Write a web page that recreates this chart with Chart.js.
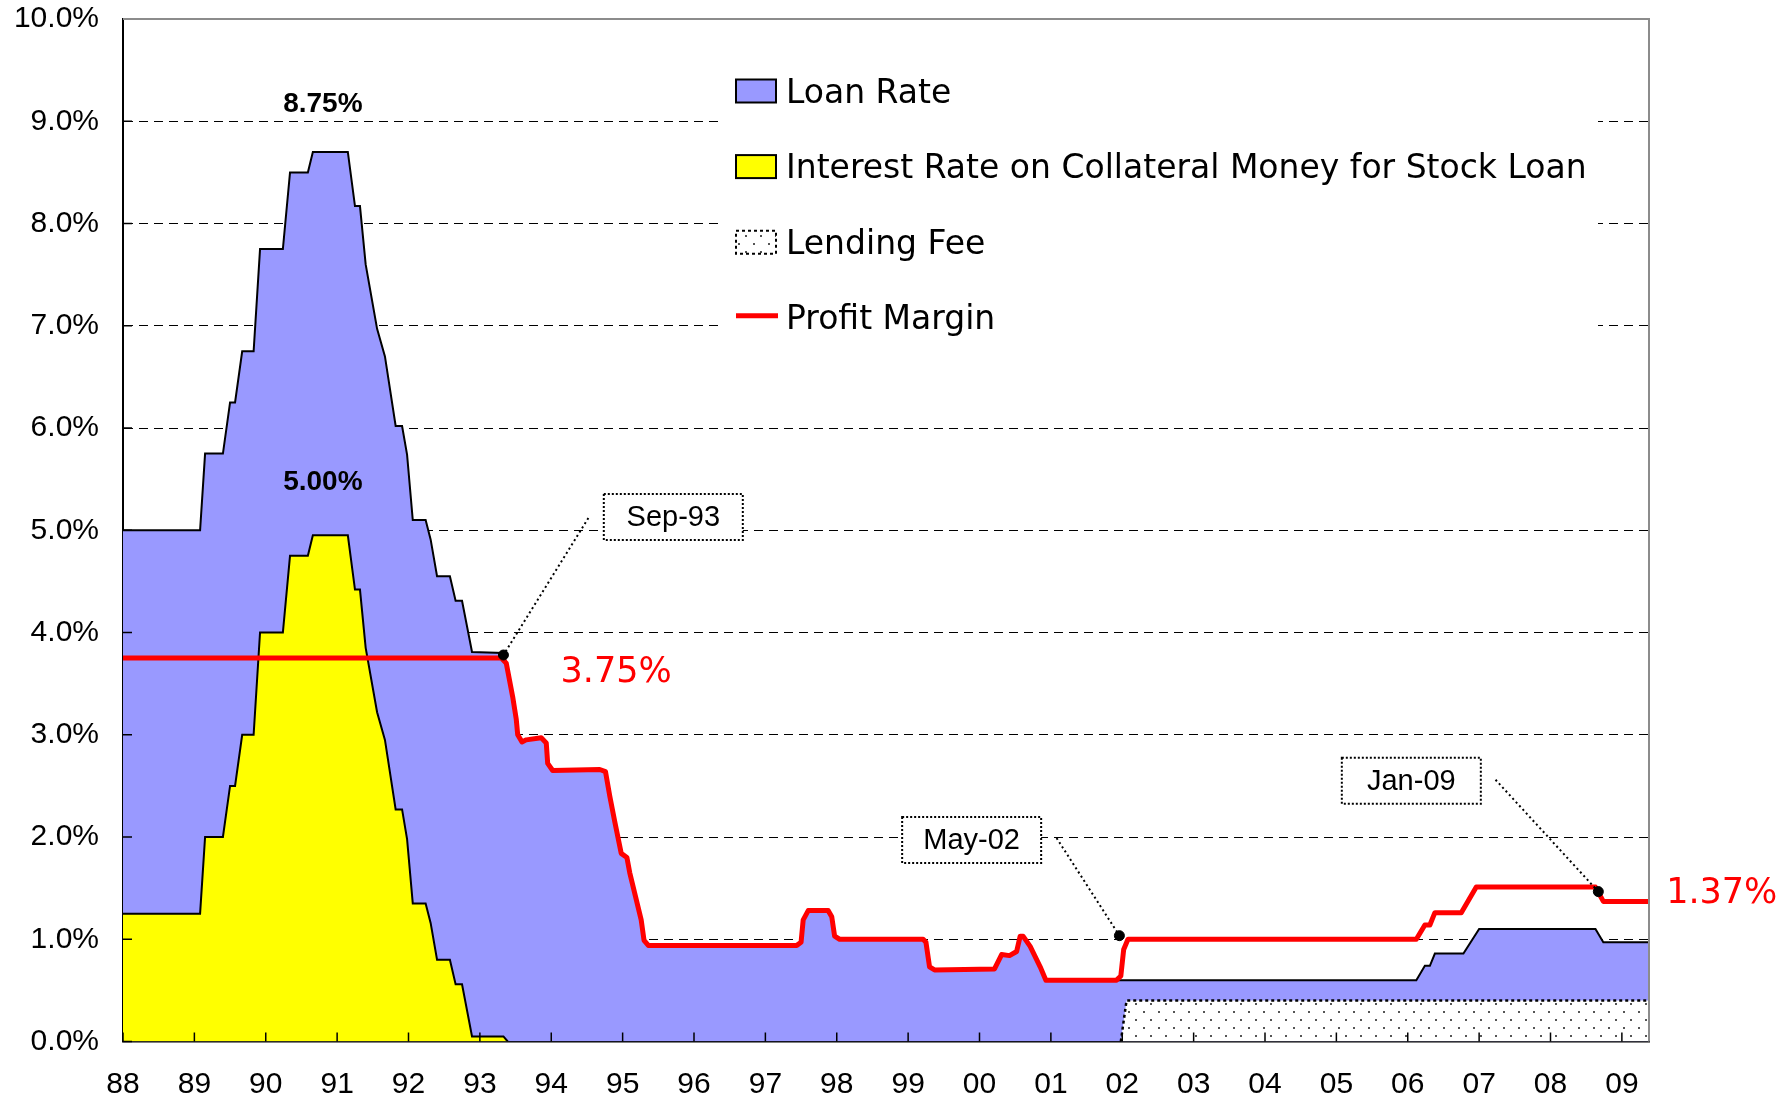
<!DOCTYPE html>
<html lang="en">
<head>
    <meta charset="UTF-8">
    <title>Loan Rate, Collateral Interest and Profit Margin</title>
    <script src="https://cdn.jsdelivr.net/npm/chart.js"></script>
    <style>
        html, body { margin: 0; padding: 0; background: #fff; }
    </style>
</head>
<body>
<canvas id="rateChart" width="1790" height="1102"></canvas>

<script>
    // ** Data (x = position on the year axis, y = %) **
    const loanYears = [1988.00, 1989.08, 1989.15, 1989.40, 1989.50, 1989.57, 1989.67, 1989.83, 1989.92, 1990.24,
        1990.34, 1990.59, 1990.66, 1991.15, 1991.25, 1991.32, 1991.40, 1991.56, 1991.67, 1991.82,
        1991.91, 1991.98, 1992.06, 1992.24, 1992.31, 1992.40, 1992.58, 1992.66, 1992.75, 1992.89,
        1993.33, 1993.37, 1993.46, 1993.51, 1993.53, 1993.59, 1993.65, 1993.86, 1993.93, 1993.95,
        1994.02, 1994.68, 1994.76, 1994.82, 1994.89, 1994.98, 1995.06, 1995.10, 1995.18, 1995.26,
        1995.30, 1995.36, 1997.44, 1997.50, 1997.53, 1997.60, 1997.88, 1997.93, 1997.97, 1998.04,
        1999.21, 1999.25, 1999.30, 1999.37, 2000.21, 2000.31, 2000.42, 2000.52, 2000.57, 2000.61,
        2000.71, 2000.85, 2000.93, 2006.12, 2006.24, 2006.31, 2006.38, 2006.78, 2007.00, 2008.63,
        2008.74, 2009.38];
    const loanRate = [5.00, 5.00, 5.75, 5.75, 6.25, 6.25, 6.75, 6.75, 7.75, 7.75,
        8.50, 8.50, 8.70, 8.70, 8.17, 8.17, 7.60, 6.97, 6.70, 6.02,
        6.02, 5.74, 5.10, 5.10, 4.91, 4.55, 4.55, 4.31, 4.31, 3.81,
        3.80, 3.70, 3.37, 3.15, 3.00, 2.93, 2.95, 2.97, 2.92, 2.72,
        2.65, 2.66, 2.64, 2.40, 2.15, 1.84, 1.80, 1.65, 1.42, 1.19,
        0.99, 0.94, 0.94, 0.97, 1.19, 1.28, 1.28, 1.22, 1.03, 1.00,
        1.00, 0.97, 0.73, 0.70, 0.71, 0.85, 0.84, 0.88, 1.03, 1.03,
        0.93, 0.73, 0.60, 0.60, 0.74, 0.74, 0.86, 0.86, 1.10, 1.10,
        0.97, 0.97];

    const collateralYears = [1988.00, 1989.08, 1989.15, 1989.40, 1989.50, 1989.57, 1989.67, 1989.83, 1989.92, 1990.24,
        1990.34, 1990.59, 1990.66, 1991.15, 1991.25, 1991.32, 1991.40, 1991.56, 1991.67, 1991.82,
        1991.91, 1991.98, 1992.06, 1992.24, 1992.31, 1992.40, 1992.58, 1992.66, 1992.75, 1992.89,
        1993.33, 1993.39];
    const collateralRate = [1.25, 1.25, 2.00, 2.00, 2.50, 2.50, 3.00, 3.00, 4.00, 4.00,
        4.75, 4.75, 4.95, 4.95, 4.42, 4.42, 3.85, 3.22, 2.95, 2.27,
        2.27, 1.98, 1.35, 1.35, 1.16, 0.80, 0.80, 0.56, 0.56, 0.05,
        0.05, 0.00];

    const feeYears = [2001.98, 2002.06, 2009.38];
    const feeRate = [0.00, 0.40, 0.40];

    const marginYears = [1988.00, 1993.30, 1993.37, 1993.46, 1993.51, 1993.53, 1993.59, 1993.65, 1993.86, 1993.93,
        1993.95, 1994.02, 1994.68, 1994.76, 1994.82, 1994.89, 1994.98, 1995.06, 1995.10, 1995.18,
        1995.26, 1995.30, 1995.36, 1997.44, 1997.50, 1997.53, 1997.60, 1997.88, 1997.93, 1997.97,
        1998.04, 1999.21, 1999.25, 1999.30, 1999.37, 2000.21, 2000.31, 2000.42, 2000.52, 2000.57,
        2000.61, 2000.71, 2000.85, 2000.93, 2001.92, 2001.98, 2002.02, 2002.08, 2006.12, 2006.24,
        2006.31, 2006.38, 2006.75, 2006.96, 2008.63, 2008.74, 2009.38];
    const profitMargin = [3.75, 3.75, 3.70, 3.37, 3.15, 3.00, 2.93, 2.95, 2.97, 2.92,
        2.72, 2.65, 2.66, 2.64, 2.40, 2.15, 1.84, 1.80, 1.65, 1.42,
        1.19, 0.99, 0.94, 0.94, 0.97, 1.19, 1.28, 1.28, 1.22, 1.03,
        1.00, 1.00, 0.97, 0.73, 0.70, 0.71, 0.85, 0.84, 0.88, 1.03,
        1.03, 0.93, 0.73, 0.60, 0.60, 0.64, 0.90, 1.00, 1.00, 1.14,
        1.14, 1.26, 1.26, 1.51, 1.51, 1.37, 1.37];

    // marked points on the profit margin line
    const calloutLabels = ["Sep-93", "May-02", "Jan-09"];
    const calloutYears = [1993.33, 2001.96, 2008.67];
    const calloutValues = [3.78, 1.035, 1.466];

    const yTicksMax = 10;
    const xFirstYear = 1988, xLastYear = 2009.38;

    const pts = (xs, ys) => xs.map((x, i) => ({ x: x, y: ys[i] }));

    // dotted fill for the lending fee
    function dotPattern() {
        let c = document.createElement("canvas");
        c.width = 15; c.height = 16;
        let g = c.getContext("2d");
        g.fillStyle = "#fff";
        g.fillRect(0, 0, 15, 16);
        g.fillStyle = "#555";
        g.fillRect(3, 3, 2, 2);
        g.fillRect(10, 11, 2, 2);
        return g.createPattern(c, "repeat");
    }
    const feeFill = dotPattern();

    // where the boxes and texts sit (axis units)
    const calloutBoxes = [
        { center: [1995.71, 5.13], from: [1994.52, 5.12] },
        { center: [1999.89, 1.97], from: [2001.08, 1.99] },
        { center: [2006.05, 2.55], from: [2007.23, 2.56] }
    ];
    const legendRows = ["Loan Rate", "Interest Rate on Collateral Money for Stock Loan", "Lending Fee", "Profit Margin"];

    const decor = {
        id: "decor",
        beforeDatasetsDraw(chart) {
            const { ctx, chartArea: a } = chart;
            ctx.save();
            // legend panel, hides the grid behind it
            ctx.fillStyle = "#fff";
            ctx.fillRect(a.left + 598, a.top + 22, 877, 312);
            legendRows.forEach((label, i) => {
                const ds = chart.data.datasets.find(d => d.label === label);
                const cy = a.top + 72 + i * 75.6;
                const sx = a.left + 613;
                if (label === "Profit Margin") {
                    ctx.strokeStyle = ds.borderColor;
                    ctx.lineWidth = 5;
                    ctx.setLineDash([]);
                    ctx.beginPath();
                    ctx.moveTo(sx, cy - 2);
                    ctx.lineTo(sx + 42, cy - 2);
                    ctx.stroke();
                } else {
                    ctx.fillStyle = ds.backgroundColor;
                    ctx.fillRect(sx, cy - 11.5, 40, 23);
                    ctx.strokeStyle = "#000";
                    ctx.lineWidth = 2;
                    ctx.setLineDash(ds.borderDash || []);
                    ctx.strokeRect(sx, cy - 11.5, 40, 23);
                }
                ctx.setLineDash([]);
                ctx.fillStyle = "#000";
                ctx.font = '33px "DejaVu Sans"';
                ctx.textAlign = "left";
                ctx.textBaseline = "alphabetic";
                ctx.fillText(label, sx + 50, cy + 11.5);
            });
            ctx.restore();
        },
        afterDatasetsDraw(chart) {
            const { ctx, chartArea: a, scales: { x, y } } = chart;
            ctx.save();

            // small inner tick marks
            ctx.strokeStyle = "#000";
            ctx.lineWidth = 1.5;
            x.ticks.forEach(t => {
                const px = x.getPixelForValue(t.value);
                ctx.beginPath();
                ctx.moveTo(px, a.bottom);
                ctx.lineTo(px, a.bottom - 9);
                ctx.stroke();
            });
            y.ticks.forEach(t => {
                const py = y.getPixelForValue(t.value);
                ctx.beginPath();
                ctx.moveTo(a.left, py);
                ctx.lineTo(a.left + 9, py);
                ctx.stroke();
            });

            // grey frame on top and right
            ctx.strokeStyle = "#8c8c8c";
            ctx.lineWidth = 2;
            ctx.beginPath();
            ctx.moveTo(a.left, a.top);
            ctx.lineTo(a.right, a.top);
            ctx.lineTo(a.right, a.bottom);
            ctx.stroke();

            // callouts
            calloutLabels.forEach((label, i) => {
                const box = calloutBoxes[i];
                const px = x.getPixelForValue(calloutYears[i]);
                const py = y.getPixelForValue(calloutValues[i]);
                ctx.strokeStyle = "#000";
                ctx.lineWidth = 2;
                ctx.setLineDash([2, 3]);
                ctx.beginPath();
                ctx.moveTo(x.getPixelForValue(box.from[0]), y.getPixelForValue(box.from[1]));
                ctx.lineTo(px, py);
                ctx.stroke();

                const cx = x.getPixelForValue(box.center[0]);
                const cy = y.getPixelForValue(box.center[1]);
                const w = 139, h = 46;
                ctx.fillStyle = "#fff";
                ctx.fillRect(cx - w / 2, cy - h / 2, w, h);
                ctx.setLineDash([2, 2]);
                ctx.strokeRect(cx - w / 2, cy - h / 2, w, h);
                ctx.setLineDash([]);
                ctx.fillStyle = "#000";
                ctx.font = '29px "Liberation Sans"';
                ctx.textAlign = "center";
                ctx.textBaseline = "middle";
                ctx.fillText(label, cx, cy + 1);
            });

            // value labels
            ctx.textBaseline = "alphabetic";
            ctx.font = 'bold 28px "Liberation Sans"';
            ctx.fillStyle = "#000";
            ctx.textAlign = "center";
            ctx.fillText("8.75%", x.getPixelForValue(1990.80), y.getPixelForValue(9.095));
            ctx.fillText("5.00%", x.getPixelForValue(1990.80), y.getPixelForValue(5.396));

            ctx.font = '35px "DejaVu Sans"';
            ctx.fillStyle = "#ff0000";
            ctx.textAlign = "left";
            ctx.fillText("3.75%", x.getPixelForValue(1994.13), y.getPixelForValue(3.518));
            ctx.fillText("1.37%", x.getPixelForValue(2009.62), y.getPixelForValue(1.355));

            ctx.restore();
        }
    };

    let ctx = document.getElementById("rateChart").getContext("2d");
    new Chart(ctx, {
        type: "line",
        data: {
            datasets: [
                {
                    type: "scatter",
                    label: "Callouts",
                    data: pts(calloutYears, calloutValues),
                    pointRadius: 5,
                    pointBackgroundColor: "#000",
                    pointBorderColor: "#000",
                    showLine: false,
                    order: -1
                },
                {
                    label: "Profit Margin",
                    data: pts(marginYears, profitMargin),
                    borderColor: "#ff0000",
                    borderWidth: 5,
                    borderJoinStyle: "round",
                    borderCapStyle: "round",
                    fill: false,
                    pointRadius: 0,
                    order: 0
                },
                {
                    label: "Interest Rate on Collateral Money for Stock Loan",
                    data: pts(collateralYears, collateralRate),
                    backgroundColor: "#ffff00",
                    borderColor: "#000",
                    borderWidth: 2,
                    fill: "origin",
                    pointRadius: 0,
                    order: 1
                },
                {
                    label: "Lending Fee",
                    data: pts(feeYears, feeRate),
                    backgroundColor: feeFill,
                    borderColor: "#000",
                    borderWidth: 2.5,
                    borderDash: [3, 3],
                    fill: "origin",
                    pointRadius: 0,
                    order: 2
                },
                {
                    label: "Loan Rate",
                    data: pts(loanYears, loanRate),
                    backgroundColor: "#9999ff",
                    borderColor: "#000",
                    borderWidth: 2,
                    fill: "origin",
                    pointRadius: 0,
                    order: 3
                }
            ]
        },
        options: {
            responsive: false,
            animation: false,
            devicePixelRatio: 1,
            layout: { padding: { top: 19, right: 141, bottom: 0, left: 0 } },
            plugins: {
                legend: { display: false },
                tooltip: { enabled: false }
            },
            scales: {
                x: {
                    type: "linear",
                    min: xFirstYear,
                    max: xLastYear,
                    afterFit: s => { s.height = 60.5; s.paddingLeft = 0; s.paddingRight = 0; },
                    grid: { display: false, drawTicks: false },
                    border: { color: "#000", width: 2.5 },
                    ticks: {
                        stepSize: 1,
                        includeBounds: false,
                        autoSkip: false,
                        maxRotation: 0,
                        padding: 25,
                        color: "#000",
                        font: { family: "Liberation Sans", size: 30 },
                        callback: v => String(Math.round(v)).slice(-2)
                    }
                },
                y: {
                    min: 0,
                    max: yTicksMax,
                    afterFit: s => { s.width = 123; s.paddingTop = 0; s.paddingBottom = 0; },
                    grid: {
                        drawTicks: false,
                        lineWidth: 1,
                        color: c => (c.tick && (c.tick.value === 0 || c.tick.value === yTicksMax)) ? "rgba(0,0,0,0)" : "#000"
                    },
                    border: { color: "#000", width: 2, dash: [9, 6] },
                    ticks: {
                        stepSize: 1,
                        padding: 24,
                        color: "#000",
                        font: { family: "Liberation Sans", size: 30 },
                        callback: v => v.toFixed(1) + "%"
                    }
                }
            }
        },
        plugins: [decor]
    });
</script>
</body>
</html>
